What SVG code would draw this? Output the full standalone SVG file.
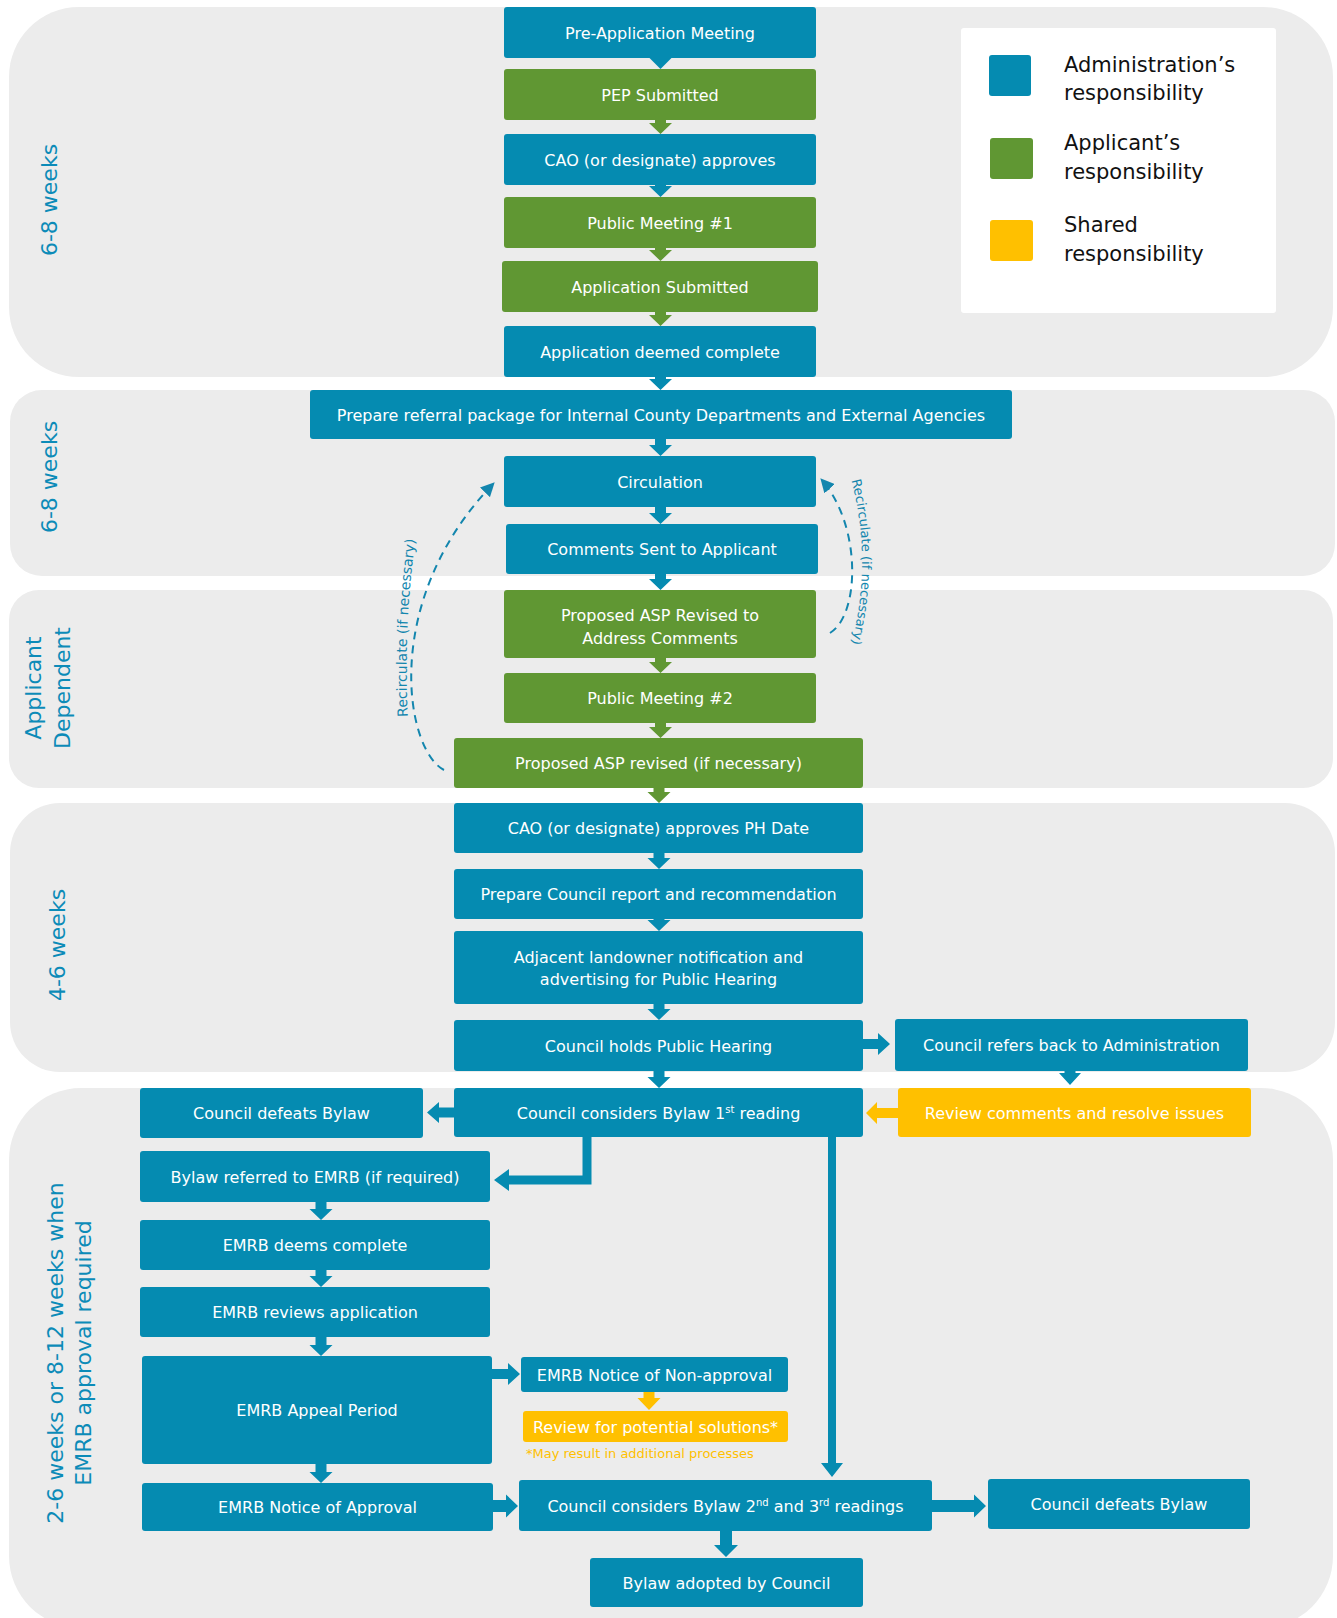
<svg xmlns="http://www.w3.org/2000/svg" width="1337" height="1618" viewBox="0 0 1337 1618">
<style>
.panel{fill:#ECECEC}
.b{fill:#058BB1}
.g{fill:#609733}
.y{fill:#FFC000}
.t{font-family:"DejaVu Sans",Verdana,sans-serif;font-size:16px;fill:#FFFFFF;text-anchor:middle}
.sup{font-size:10px}
.lab{font-family:"DejaVu Sans",Verdana,sans-serif;font-size:22px;fill:#0C8BB8;text-anchor:middle}
.leg{font-family:"DejaVu Sans",Verdana,sans-serif;font-size:21px;fill:#111111}
.note{font-family:"DejaVu Sans",Verdana,sans-serif;font-size:13px;fill:#FFC000}
.rec{font-family:"DejaVu Sans",Verdana,sans-serif;font-size:14px;fill:#1386AE;text-anchor:middle}
.dash{fill:none;stroke:#1386AE;stroke-width:2;stroke-dasharray:8 6}
</style>
<defs>
<marker id="ah" markerWidth="14" markerHeight="14" refX="13" refY="7" orient="auto" markerUnits="userSpaceOnUse">
<path d="M0,0 L14,7 L0,14 z" fill="#1386AE"/>
</marker>
<path id="lp" d="M408,722 Q403,628 416,534" fill="none"/>
<path id="rp" d="M852,482 Q872,562 852,642" fill="none"/>
</defs>
<rect width="1337" height="1618" fill="#FFFFFF"/>
<g id="panels">
<rect class="panel" x="9" y="7" width="1324" height="370" rx="70"/>
<rect class="panel" x="10" y="390" width="1325" height="186" rx="32"/>
<rect class="panel" x="9" y="590" width="1324" height="198" rx="30"/>
<rect class="panel" x="10" y="803" width="1325" height="269" rx="50"/>
<rect class="panel" x="9" y="1088" width="1324" height="540" rx="72"/>
</g>
<g id="phase-labels">
<text class="lab" transform="translate(57,200) rotate(-90)">6-8 weeks</text>
<text class="lab" transform="translate(57,477) rotate(-90)">6-8 weeks</text>
<text class="lab" transform="translate(41,688) rotate(-90)">Applicant</text>
<text class="lab" transform="translate(70,688) rotate(-90)">Dependent</text>
<text class="lab" transform="translate(65,945) rotate(-90)">4-6 weeks</text>
<text class="lab" transform="translate(63,1353) rotate(-90)">2-6 weeks or 8-12 weeks when</text>
<text class="lab" transform="translate(91,1353) rotate(-90)">EMRB approval required</text>
</g>
<g id="legend">
<rect x="961" y="28" width="315" height="285" rx="3" fill="#FFFFFF"/>
<rect class="b" x="989" y="55" width="42" height="41" rx="3"/>
<rect class="g" x="990" y="138" width="43" height="41" rx="3"/>
<rect class="y" x="990" y="220" width="43" height="41" rx="3"/>
<text class="leg" x="1064" y="72">Administration’s</text>
<text class="leg" x="1064" y="100">responsibility</text>
<text class="leg" x="1064" y="150">Applicant’s</text>
<text class="leg" x="1064" y="179">responsibility</text>
<text class="leg" x="1064" y="232">Shared</text>
<text class="leg" x="1064" y="261">responsibility</text>
</g>
<g id="connectors">
<path class="b" d="M648.5,57 H672.5 L660.5,69 Z"/>
<path class="g" d="M655,119 H666 V123 H672 L660.5,134 L649,123 H655 Z"/>
<path class="b" d="M655,184 H666 V186 H672 L660.5,197 L649,186 H655 Z"/>
<path class="g" d="M655,247 H666 V250 H672 L660.5,261 L649,250 H655 Z"/>
<path class="g" d="M655,311 H666 V315 H672 L660.5,326 L649,315 H655 Z"/>
<path class="b" d="M655,376 H666 V379 H672 L660.5,390 L649,379 H655 Z"/>
<path class="b" d="M655,438 H666 V445 H672 L660.5,456 L649,445 H655 Z"/>
<path class="b" d="M655,506 H666 V513 H672 L660.5,524 L649,513 H655 Z"/>
<path class="b" d="M655,573 H666 V579 H672 L660.5,590 L649,579 H655 Z"/>
<path class="g" d="M655,657 H666 V662 H672 L660.5,673 L649,662 H655 Z"/>
<path class="g" d="M655,722 H666 V727 H672 L660.5,738 L649,727 H655 Z"/>
<path class="g" d="M653.5,787 H664.5 V792 H670.5 L659,803 L647.5,792 H653.5 Z"/>
<path class="b" d="M653.5,852 H664.5 V858 H670.5 L659,869 L647.5,858 H653.5 Z"/>
<path class="b" d="M653.5,918 H664.5 V920 H670.5 L659,931 L647.5,920 H653.5 Z"/>
<path class="b" d="M653.5,1003 H664.5 V1009 H670.5 L659,1020 L647.5,1009 H653.5 Z"/>
<path class="b" d="M653.5,1070 H664.5 V1077 H670.5 L659,1088 L647.5,1077 H653.5 Z"/>
<path class="b" d="M862,1039 H878 V1033 L890,1044 L878,1055 V1049 H862 Z"/>
<path class="b" d="M1064.5,1070 H1075.5 V1073 H1081 L1070,1085 L1059,1073 H1064.5 Z"/>
<path class="y" d="M899,1108 H877 V1102 L866,1113 L877,1124 V1118 H899 Z"/>
<path class="b" d="M455,1107.5 H439 V1102 L427,1112.5 L439,1123 V1117.5 H455 Z"/>
<path class="b" d="M582.5,1136 H591.5 V1184.5 H509 V1191 L494,1180 L509,1169 V1175.5 H582.5 Z"/>
<path class="b" d="M828,1136 H836 V1463 H843 L832,1477 L821,1463 H828 Z"/>
<path class="b" d="M315.5,1201 H326.5 V1209 H332.5 L321,1220 L309.5,1209 H315.5 Z"/>
<path class="b" d="M315.5,1269 H326.5 V1276 H332.5 L321,1287 L309.5,1276 H315.5 Z"/>
<path class="b" d="M315.5,1336 H326.5 V1345 H332.5 L321,1356 L309.5,1345 H315.5 Z"/>
<path class="b" d="M315.5,1463 H326.5 V1472 H332.5 L321,1483 L309.5,1472 H315.5 Z"/>
<path class="b" d="M491,1369 H508 V1363 L520,1374 L508,1385 V1379 H491 Z"/>
<path class="y" d="M643.5,1391 H654.5 V1398 H660.5 L649,1410 L637.5,1398 H643.5 Z"/>
<path class="b" d="M492,1500 H506 V1494.5 L518,1506 L506,1517.5 V1512 H492 Z"/>
<path class="b" d="M931,1500 H974 V1494.5 L986,1506 L974,1517.5 V1512 H931 Z"/>
<path class="b" d="M720,1530 H732 V1545 H738 L726,1557 L714,1545 H720 Z"/>
<path class="dash" d="M444,770 C405,750 380,600 494,483" marker-end="url(#ah)"/>
<path class="dash" d="M830,633 C860,615 862,525 821,479" marker-end="url(#ah)"/>
<text class="rec"><textPath href="#lp" startOffset="50%">Recirculate (if necessary)</textPath></text>
<text class="rec" style="font-size:13px"><textPath href="#rp" startOffset="50%">Recirculate (if necessary)</textPath></text>
</g>
<g id="n1"><rect class="b" x="504" y="7" width="312" height="51" rx="3"/><text class="t" x="660" y="38.5">Pre-Application Meeting</text></g>
<g id="n2"><rect class="g" x="504" y="69" width="312" height="51" rx="3"/><text class="t" x="660" y="100.5">PEP Submitted</text></g>
<g id="n3"><rect class="b" x="504" y="134" width="312" height="51" rx="3"/><text class="t" x="660" y="165.5">CAO (or designate) approves</text></g>
<g id="n4"><rect class="g" x="504" y="197" width="312" height="51" rx="3"/><text class="t" x="660" y="228.5">Public Meeting #1</text></g>
<g id="n5"><rect class="g" x="502" y="261" width="316" height="51" rx="3"/><text class="t" x="660" y="292.5">Application Submitted</text></g>
<g id="n6"><rect class="b" x="504" y="326" width="312" height="51" rx="3"/><text class="t" x="660" y="357.5">Application deemed complete</text></g>
<g id="n7"><rect class="b" x="310" y="390" width="702" height="49" rx="3"/><text class="t" x="661" y="420.5">Prepare referral package for Internal County Departments and External Agencies</text></g>
<g id="n8"><rect class="b" x="504" y="456" width="312" height="51" rx="3"/><text class="t" x="660" y="487.5">Circulation</text></g>
<g id="n9"><rect class="b" x="506" y="524" width="312" height="50" rx="3"/><text class="t" x="662" y="555">Comments Sent to Applicant</text></g>
<g id="n10"><rect class="g" x="504" y="590" width="312" height="68" rx="3"/><text class="t" x="660" y="621">Proposed ASP Revised to</text><text class="t" x="660" y="643.5">Address Comments</text></g>
<g id="n11"><rect class="g" x="504" y="673" width="312" height="50" rx="3"/><text class="t" x="660" y="704">Public Meeting #2</text></g>
<g id="n12"><rect class="g" x="454" y="738" width="409" height="50" rx="3"/><text class="t" x="658.5" y="769">Proposed ASP revised (if necessary)</text></g>
<g id="n13"><rect class="b" x="454" y="803" width="409" height="50" rx="3"/><text class="t" x="658.5" y="834">CAO (or designate) approves PH Date</text></g>
<g id="n14"><rect class="b" x="454" y="869" width="409" height="50" rx="3"/><text class="t" x="658.5" y="900">Prepare Council report and recommendation</text></g>
<g id="n15"><rect class="b" x="454" y="931" width="409" height="73" rx="3"/><text class="t" x="658.5" y="963">Adjacent landowner notification and</text><text class="t" x="658.5" y="985">advertising for Public Hearing</text></g>
<g id="n16"><rect class="b" x="454" y="1020" width="409" height="51" rx="3"/><text class="t" x="658.5" y="1051.5">Council holds Public Hearing</text></g>
<g id="n17"><rect class="b" x="895" y="1019" width="353" height="52" rx="3"/><text class="t" x="1071.5" y="1051">Council refers back to Administration</text></g>
<g id="n18"><rect class="b" x="454" y="1088" width="409" height="49" rx="3"/><text class="t" x="658.5" y="1118.5">Council considers Bylaw 1<tspan class="sup" dy="-6">st</tspan><tspan dy="6"> reading</tspan></text></g>
<g id="n19"><rect class="y" x="898" y="1088" width="353" height="49" rx="3"/><text class="t" x="1074.5" y="1118.5">Review comments and resolve issues</text></g>
<g id="n20"><rect class="b" x="140" y="1088" width="283" height="50" rx="3"/><text class="t" x="281.5" y="1119">Council defeats Bylaw</text></g>
<g id="n21"><rect class="b" x="140" y="1151" width="350" height="51" rx="3"/><text class="t" x="315" y="1182.5">Bylaw referred to EMRB (if required)</text></g>
<g id="n22"><rect class="b" x="140" y="1220" width="350" height="50" rx="3"/><text class="t" x="315" y="1251">EMRB deems complete</text></g>
<g id="n23"><rect class="b" x="140" y="1287" width="350" height="50" rx="3"/><text class="t" x="315" y="1318">EMRB reviews application</text></g>
<g id="n24"><rect class="b" x="142" y="1356" width="350" height="108" rx="3"/><text class="t" x="317" y="1416">EMRB Appeal Period</text></g>
<g id="n25"><rect class="b" x="521" y="1357" width="267" height="35" rx="3"/><text class="t" x="654.5" y="1380.5">EMRB Notice of Non-approval</text></g>
<g id="n26"><rect class="y" x="523" y="1411" width="265" height="31" rx="3"/><text class="t" x="655.5" y="1432.5">Review for potential solutions*</text><text class="note" x="526" y="1458">*May result in additional processes</text></g>
<g id="n27"><rect class="b" x="142" y="1483" width="351" height="48" rx="3"/><text class="t" x="317.5" y="1513">EMRB Notice of Approval</text></g>
<g id="n28"><rect class="b" x="519" y="1480" width="413" height="51" rx="3"/><text class="t" x="725.5" y="1511.5">Council considers Bylaw 2<tspan class="sup" dy="-6">nd</tspan><tspan dy="6"> and 3</tspan><tspan class="sup" dy="-6">rd</tspan><tspan dy="6"> readings</tspan></text></g>
<g id="n29"><rect class="b" x="988" y="1479" width="262" height="50" rx="3"/><text class="t" x="1119" y="1510">Council defeats Bylaw</text></g>
<g id="n30"><rect class="b" x="590" y="1558" width="273" height="49" rx="3"/><text class="t" x="726.5" y="1588.5">Bylaw adopted by Council</text></g>
</svg>
